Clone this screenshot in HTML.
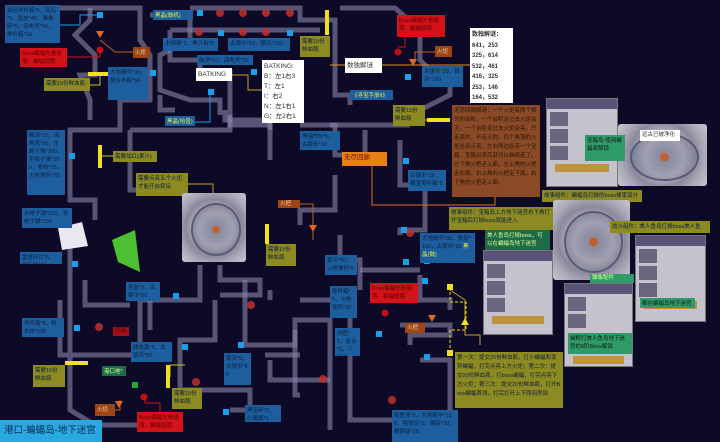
<!DOCTYPE html>
<html><head><meta charset="utf-8"><style>
*{margin:0;padding:0;box-sizing:border-box}
body{width:720px;height:442px;overflow:hidden;background:#0d0a28;font-family:"Liberation Sans","Noto Sans CJK SC",sans-serif;position:relative}
.b{position:absolute;font-size:5.5px;line-height:8px;color:#0d2040;padding:2px 2px;overflow:hidden;word-break:break-all}
.bl{background:#1d5e9e}
.ol{background:#8c8a20}
.rd{background:#d4121a;color:#600}
.or{background:#9c4618;color:#f0d0a0}
.gr{background:#2f9a6a;color:#d8ff90}
.wh{background:#fff;color:#333;font-size:8px;line-height:13px}
.br{background:#8a4a25;color:#2a1505}
.pn{position:absolute;background:#c4c2cc;border:1px solid #777}
.pn .h{background:#5a5278;height:10px}
.pn .r{background:#6a6680;margin:3px;height:14px;width:18px}
.pn .btn{background:#c0923a;height:8px;margin:4px 8px}
.alt{position:absolute;background:radial-gradient(circle,#9a96a8 0,#b8b6c2 40%,#8a889a 60%,#a8a6b4 75%,#c8c6d0 100%);border-radius:3px}
.alt::after{content:"";position:absolute;left:14%;top:14%;width:72%;height:72%;border-radius:50%;border:2px solid #5a5a78;background:radial-gradient(circle,#c06030 0,#c06030 10%,#8a8aa0 12%,#a0a0b0 50%,#707088 100%)}
.sq{position:absolute;width:6px;height:6px;background:#1aa0e8}
</style></head><body>
<svg width="720" height="442" style="position:absolute;left:0;top:0" fill="none" stroke="#8a86a8" stroke-width="5" stroke-opacity="0.6">
<path d="M60 8 H140 V40 L150 55 V75 L150 100 H120 V130 H70 V200 H95 V220"/>
<path d="M90 8 V20 L75 35 L95 55 V75 H80 L90 100 V120"/>
<path d="M150 15 H190 V40 L160 55 V90 L190 100 H220 V115"/>
<path d="M190 8 H300 V20 H335 V95 H350 V105"/>
<path d="M170 30 H320 M170 30 V60 H200 V70"/>
<path d="M340 8 H395 L420 30 V60 L430 70 H450 V95 L420 110 H400"/>
<path d="M230 70 V125 H270 V160"/>
<path d="M130 130 V190 H180 M130 130 H230 V115"/>
<path d="M300 125 H335 V155 H345 M335 175 V210 H300 V225"/>
<path d="M400 140 V185 H425 V230 H400 V235"/>
<path d="M200 265 V300 H140 V355 H60 V300 M70 245 V410 L95 425 H140"/>
<path d="M85 280 V305 H130 M150 300 V330"/>
<path d="M215 300 V340 H180 V390 H250 V410 H230"/>
<path d="M220 265 V280 H260 V295 H220"/>
<path d="M245 280 V345 H295 V320 H330 V430"/>
<path d="M270 300 V290 M295 330 V395 H300"/>
<path d="M340 235 V260 H360 V290 M350 300 V420 H400"/>
<path d="M360 270 H420 M400 325 H450 V335 H410 V345"/>
<path d="M420 275 V300 H450 V310 M420 360 H450 V420 H410 M450 370 V440"/>
<path d="M330 125 H410 M365 130 V165"/>
<path d="M265 355 H300 M270 360 V380 H330"/>
<path d="M160 95 V110 H175"/>
<path d="M225 110 V120 H270 V130"/>
<path d="M300 300 H330"/>
</svg>
<svg width="720" height="442" style="position:absolute;left:0;top:0" fill="none" stroke-width="1">
<path d="M60 25 H80 V15 H100" stroke="#1aa0e8"/>
<path d="M100 40 L115 52 H133" stroke="#c06020"/>
<path d="M67 57 H100 V50" stroke="#d4121a"/>
<path d="M90 85 H100 V74" stroke="#c8c020"/>
<path d="M300 45 H327" stroke="#c8c020"/>
<path d="M232 75 H248 V90 H262" stroke="#c8a020"/>
<path d="M195 122 H210 V92" stroke="#1aa0e8"/>
<path d="M157 156 H100" stroke="#c8c020"/>
<path d="M188 184 H213 V195" stroke="#c8a020"/>
<path d="M330 65 H495" stroke="#e09020"/>
<path d="M405 37 V47 H398" stroke="#d4121a"/>
<path d="M435 52 H415 V60" stroke="#c06020"/>
<path d="M372 166 V205 H495 V197" stroke="#e07020"/>
<path d="M425 120 H440" stroke="#c8c020"/>
<path d="M300 204 H313 V240" stroke="#c06020"/>
<path d="M480 345 V335 H465 V300 L450 290" stroke="#c8a020"/>
<path d="M170 377 V365 H185" stroke="#c8c020"/>
<path d="M115 410 H120 V400" stroke="#c06020"/>
<path d="M160 412 V403 H145 V396" stroke="#d4121a"/>
</svg>
<svg width="720" height="442" style="position:absolute;left:0;top:0">
<g fill="#c03030" opacity="0.85">
<circle cx="220" cy="13" r="4"/><circle cx="243" cy="13" r="4"/><circle cx="266" cy="13" r="4"/><circle cx="290" cy="13" r="4"/>
<circle cx="199" cy="32" r="4"/><circle cx="243" cy="32" r="4"/><circle cx="266" cy="32" r="4"/>
<circle cx="251" cy="305" r="4"/><circle cx="196" cy="382" r="4"/><circle cx="323" cy="379" r="4"/><circle cx="410" cy="233" r="4"/><circle cx="392" cy="400" r="4"/><circle cx="99" cy="327" r="4"/>
<circle cx="100" cy="50" r="3.5" fill="#e01010"/><circle cx="398" cy="52" r="3.5" fill="#e01010"/><circle cx="144" cy="397" r="3.5" fill="#e01010"/><circle cx="385" cy="313" r="3.5" fill="#e01010"/>
</g>
<g fill="#e06820"><path d="M96 31h8l-4 7z"/><path d="M409 59h8l-4 7z"/><path d="M115 401h8l-4 7z"/><path d="M428 315h8l-4 7z"/><path d="M309 225h8l-4 7z"/></g>
<g fill="#f0e020"><rect x="88" y="72" width="22" height="4"/><rect x="325" y="10" width="4" height="25"/><rect x="98" y="145" width="4" height="23"/><rect x="427" y="118" width="23" height="4"/><rect x="65" y="361" width="23" height="4"/><rect x="166" y="365" width="4" height="23"/><rect x="265" y="224" width="4" height="20"/></g>
<g stroke="#f0e020" stroke-dasharray="3 2" fill="none"><path d="M450 287 V302 H466 V330 H450 V350"/></g>
<path d="M465 318l-4 7h8z" fill="#f0e020"/>
<rect x="447" y="284" width="6" height="6" fill="#f0e020"/><rect x="447" y="350" width="6" height="6" fill="#f0e020"/>
<path d="M112 240 L135 230 L140 272 L118 262Z" fill="#4cc030"/>
<path d="M58 228 L82 222 L88 246 L62 250Z" fill="#e8e8f0"/>
</svg>
<div class="sq" style="left:97px;top:12px"></div><div class="sq" style="left:197px;top:10px"></div><div class="sq" style="left:218px;top:30px"></div><div class="sq" style="left:287px;top:30px"></div>
<div class="sq" style="left:150px;top:70px"></div><div class="sq" style="left:251px;top:69px"></div><div class="sq" style="left:208px;top:89px"></div><div class="sq" style="left:69px;top:153px"></div>
<div class="sq" style="left:343px;top:156px"></div><div class="sq" style="left:405px;top:74px"></div><div class="sq" style="left:403px;top:158px"></div><div class="sq" style="left:72px;top:261px"></div>
<div class="sq" style="left:173px;top:293px"></div><div class="sq" style="left:74px;top:325px"></div><div class="sq" style="left:182px;top:344px"></div><div class="sq" style="left:238px;top:342px"></div>
<div class="sq" style="left:223px;top:409px"></div><div class="sq" style="left:401px;top:227px"></div><div class="sq" style="left:403px;top:259px"></div><div class="sq" style="left:424px;top:258px"></div>
<div class="sq" style="left:422px;top:278px"></div><div class="sq" style="left:424px;top:354px"></div><div class="sq" style="left:376px;top:331px"></div><div class="sq" style="left:132px;top:382px;background:#2a3"></div>

<div class="b bl" style="left:5px;top:5px;width:55px;height:38px">最佳零件箱*5，钻石*5，鱼皮*40，雕像碎*5，海龟壳*40，零件箱*10</div>
<div class="b rd" style="left:20px;top:48px;width:47px;height:19px">Boss蝙蝠先看掉落：蝙蝠翅膀</div>
<div class="b or" style="left:133px;top:47px;width:17px;height:11px">火炬</div>
<div class="b ol" style="left:44px;top:78px;width:46px;height:13px">需要15份鲜血瓶</div>
<div class="b bl" style="left:108px;top:67px;width:40px;height:33px">大地精华*30，复合木板*50</div>
<div class="b bl" style="left:153px;top:10px;width:40px;height:10px;color:#e8f040">黑晶(鼓机)</div>
<div class="b bl" style="left:163px;top:38px;width:55px;height:13px">木棉絮*2，黑兰板*2</div>
<div class="b bl" style="left:228px;top:38px;width:62px;height:13px">古银币*50，银币*100</div>
<div class="b ol" style="left:300px;top:36px;width:30px;height:21px">需要15份鲜血瓶</div>
<div class="b bl" style="left:197px;top:55px;width:56px;height:10px">触须*10，海龟壳*20</div>
<div class="b wh" style="left:196px;top:68px;width:36px;height:13px;line-height:9px;font-size:6.5px">BATKING</div>
<div class="b wh" style="left:262px;top:60px;width:42px;height:63px;font-size:6.5px;line-height:10px">BATKING:<br>B：左1右3<br>T：左1<br>I：右2<br>N：左1右1<br>G：左2右1</div>
<div class="b bl" style="left:165px;top:116px;width:30px;height:10px;color:#e8f040">黑晶(哈普)</div>
<div class="b bl" style="left:27px;top:130px;width:38px;height:65px">触须*15，海龟壳*20，生蚝子弹*300，手枪子弹*300，食粉*15，火枪弹药*30</div>
<div class="b ol" style="left:113px;top:151px;width:44px;height:11px">需要战红(果汁)</div>
<div class="b ol" style="left:136px;top:173px;width:52px;height:23px">需要点亮五个火炬才能开启祭坛</div>
<div class="b bl" style="left:300px;top:131px;width:40px;height:19px">黑暗的N*5，古银币*10</div>
<div class="b or" style="left:278px;top:200px;width:22px;height:8px;line-height:5px">火把</div>
<div class="b bl" style="left:22px;top:208px;width:50px;height:20px">步枪子弹*150，手枪子弹*150</div>
<div class="alt" style="left:182px;top:193px;width:64px;height:69px"></div>
<div class="b rd" style="left:397px;top:15px;width:48px;height:22px">Boss蝙蝠先看掉落：蝙蝠翅膀</div>
<div class="b or" style="left:435px;top:46px;width:17px;height:11px">火炬</div>
<div class="b wh" style="left:345px;top:58px;width:37px;height:15px;font-size:6.5px;line-height:11px">数独解谜</div>
<div class="b bl" style="left:422px;top:66px;width:41px;height:21px">古银币*30，银币*100</div>
<div class="b bl" style="left:350px;top:90px;width:43px;height:10px;color:#e8f040">《寻宝手册II》</div>
<div class="b wh" style="left:470px;top:28px;width:43px;height:75px;font-size:6px;line-height:10.5px;font-weight:bold">数独解谜：<br>641，253<br>325，614<br>532，461<br>416，325<br>253，146<br>164，532</div>
<div class="b ol" style="left:393px;top:105px;width:32px;height:21px">需要15份鲜血瓶</div>
<div class="b br" style="left:452px;top:105px;width:88px;height:92px;line-height:9px">无尽回廊解谜：一个火炬有两个相邻的台阶，一个台阶走过去火炬会灭，一个台阶走过去火炬会亮。只走亮的，不走灭的。四个角落的火炬全部点亮，左右两边各有一个宝箱，宝箱出来后就可以继续走了。左下角火把走上面，左上角的火把走右面，右上角的火把走下面，右下角的火把走上面。</div>
<div class="b or" style="left:342px;top:152px;width:45px;height:14px;background:#e8801a;color:#6a1000;font-size:6.5px">无尽回廊</div>
<div class="b bl" style="left:408px;top:170px;width:38px;height:21px">古银币*30，藏宝零件箱*5</div>
<div class="pn" style="left:546px;top:98px;width:72px;height:89px"><div class="h"></div><div class="r"></div><div class="r"></div><div class="r"></div><div class="btn"></div></div>
<div class="alt" style="left:618px;top:124px;width:89px;height:62px"></div>
<div class="b gr" style="left:585px;top:135px;width:40px;height:26px;color:#102010">宝箱岛-使用蝙蝠桨解锁</div>
<div class="b wh" style="left:640px;top:130px;width:40px;height:11px;font-size:5.5px;line-height:7px">远古已被净化</div>
<div class="b ol" style="left:542px;top:190px;width:100px;height:12px">故事组件：蝙蝠岛打掉的boss掉率双分</div>
<div class="b ol" style="left:449px;top:207px;width:104px;height:23px">故事组件：宝箱岛上方地下迷宫右下角打开宝箱后打掉boss就能进入</div>
<div class="alt" style="left:553px;top:200px;width:77px;height:80px"></div>
<div class="b ol" style="left:610px;top:221px;width:100px;height:12px">战斗组件：美人鱼岛打掉boss美人鱼</div>
<div class="b bl" style="left:420px;top:233px;width:55px;height:30px">大地精华*30，铁锭*100，古银币*30 <span style="color:#e8f040">黑晶(鼓)</span></div>
<div class="b gr" style="left:485px;top:230px;width:65px;height:22px;background:#1f6a4a">美人鱼岛打掉boss，可以在蝙蝠岛地下迷宫</div>
<div class="pn" style="left:483px;top:250px;width:70px;height:85px"><div class="h"></div><div class="r"></div><div class="r"></div><div class="r"></div><div class="btn"></div></div>
<div class="pn" style="left:564px;top:283px;width:69px;height:84px"><div class="h"></div><div class="r"></div><div class="r"></div><div class="btn" style="margin-top:28px"></div></div>
<div class="pn" style="left:635px;top:235px;width:71px;height:87px"><div class="h"></div><div class="r"></div><div class="r"></div><div class="r"></div><div class="btn"></div></div>
<div class="b gr" style="left:590px;top:274px;width:44px;height:9px;line-height:5px">雕像配件</div>
<div class="b gr" style="left:640px;top:298px;width:55px;height:10px;color:#102010">都在蝙蝠岛地下迷宫</div>
<div class="b gr" style="left:568px;top:333px;width:64px;height:21px;color:#102010">捕鲸打美人鱼岛地下迷宫的8阶Boss解锁</div>
<div class="b ol" style="left:455px;top:352px;width:108px;height:56px;line-height:9px">第一次：提交20份鲜血瓶，打小蝙蝠和变异蝙蝠，打完点亮上方火炬；第二次：提交20份鲜血瓶，打boss蝙蝠，打完点亮下方火炬；第三次：提交20份鲜血瓶，打开Boss蝙蝠首领，打完打开上下两间房间</div>
<div class="b bl" style="left:392px;top:410px;width:66px;height:32px">鲸鱼须*5，大地精华*150，粗铁锭*2，钢锭*30，精钢锭*20</div>
<div class="b rd" style="left:370px;top:283px;width:48px;height:20px">Boss蝙蝠先看掉落：蝙蝠翅膀</div>
<div class="b or" style="left:405px;top:323px;width:20px;height:10px;line-height:6px">火把</div>
<div class="b bl" style="left:325px;top:255px;width:32px;height:20px">银币*50，火枪弹药*5</div>
<div class="b bl" style="left:330px;top:286px;width:27px;height:32px">零件箱*5，火枪弹药*30</div>
<div class="b bl" style="left:335px;top:328px;width:25px;height:28px">拼图*2，复合*5，三叉*1</div>
<div class="b ol" style="left:266px;top:244px;width:30px;height:22px">需要15份鲜血瓶</div>
<div class="b bl" style="left:20px;top:252px;width:42px;height:12px">雷霆碎片*5，欢乐骰*10</div>
<div class="b bl" style="left:22px;top:318px;width:42px;height:19px">零件箱*5，粉末粉*100</div>
<div class="b bl" style="left:126px;top:282px;width:34px;height:19px">青盐*5，古银币*50</div>
<div class="b rd" style="left:113px;top:327px;width:16px;height:9px;background:#a01018;line-height:5px">宝箱</div>
<div class="b bl" style="left:131px;top:342px;width:41px;height:20px">绿衣蛋*5，古银币*50</div>
<div class="b bl" style="left:224px;top:353px;width:27px;height:32px">银币*5，古银币*50</div>
<div class="b ol" style="left:33px;top:365px;width:32px;height:22px">需要15份鲜血瓶</div>
<div class="b gr" style="left:102px;top:366px;width:24px;height:10px;background:#1f6a4a">港口地*1</div>
<div class="b ol" style="left:172px;top:388px;width:30px;height:21px">需要15份鲜血瓶</div>
<div class="b or" style="left:95px;top:404px;width:20px;height:12px">火炬</div>
<div class="b rd" style="left:137px;top:412px;width:46px;height:20px">Boss蝙蝠先看掉落：蝙蝠翅膀</div>
<div class="b bl" style="left:245px;top:405px;width:36px;height:17px">黑宝碎*2，小黄瓶*1</div>
<div class="b" style="left:0;top:420px;width:102px;height:22px;background:#2aa9e0;color:#0a2a55;font-size:9.5px;line-height:18px;padding:2px 4px">港口-蝙蝠岛-地下迷宫</div>
</body></html>
